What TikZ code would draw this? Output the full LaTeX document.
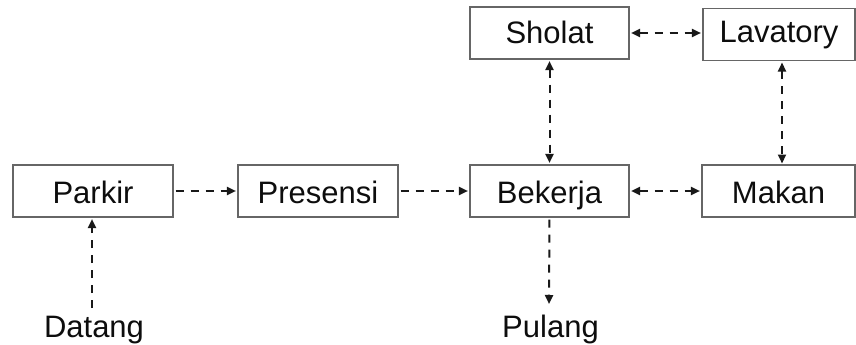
\documentclass[tikz,border=0pt]{standalone}
\usepackage{fontspec}
\setmainfont{Liberation Sans}
\usetikzlibrary{arrows.meta}
\begin{document}
\begin{tikzpicture}[x=1pt,y=-1pt,
  box/.style={draw=black!60, line width=1.1pt, minimum width=160pt, minimum height=52pt, inner sep=0pt, text height=28pt, text depth=4pt, font=\fontsize{31}{34}\selectfont, text=black!95},
  lbl/.style={inner sep=0pt, font=\fontsize{31}{34}\selectfont, text=black!95},
  flow/.style={draw=black!90, line width=2pt, dash pattern=on 8pt off 7pt, -{Triangle[length=9pt,width=8pt]}, shorten >=1.5pt, shorten <=2pt},
  both/.style={flow, {Triangle[length=9pt,width=8pt]}-{Triangle[length=9pt,width=8pt]}, shorten <=1.5pt}]
\useasboundingbox (0,0) rectangle (856,345);
\node[box] (parkir) at (93,191) {Parkir};
\node[box] (presensi) at (318,191) {Presensi};
\node[box, minimum width=159pt] (bekerja) at (549.5,191) {Bekerja};
\node[box, minimum width=153pt] (makan) at (778.5,191) {Makan};
\node[box, minimum width=159pt, text height=26pt] (sholat) at (549.5,33) {Sholat};
\node[box, minimum width=152pt, text height=22pt, text depth=6pt] (lavatory) at (779,34.5) {Lavatory};
\node[lbl, anchor=base] (datang) at (94,337.5) {Datang};
\node[lbl, anchor=base] (pulang) at (550.5,337.5) {Pulang};
\coordinate (dtop) at (92,308);
\coordinate (ptop) at (549,304);
\draw[flow] (parkir.east) -- (presensi.west);
\draw[flow] (presensi.east) -- (bekerja.west);
\draw[both] (bekerja.east) -- (makan.west);
\draw[both] (sholat.east) -- (sholat.east -| lavatory.west);
\draw[both] (sholat.south) -- (bekerja.north);
\draw[both] (782,61) -- (782,165);
\draw[flow, shorten <=0pt] (dtop) -- (parkir.south -| dtop);
\draw[flow, shorten >=0pt] (bekerja.south) -- (ptop);
\end{tikzpicture}
\end{document}
